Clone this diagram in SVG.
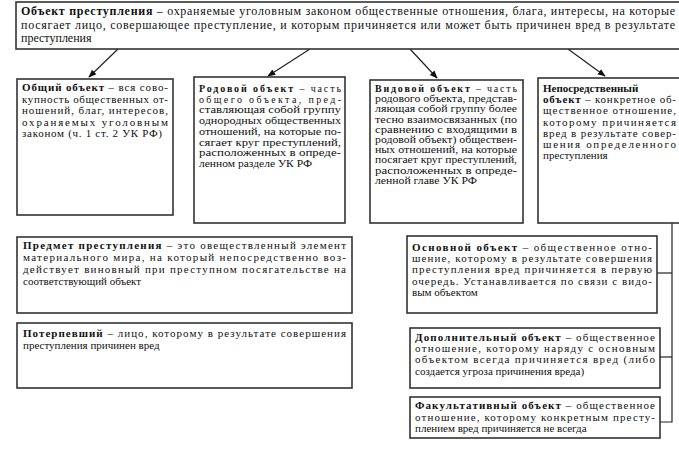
<svg xmlns="http://www.w3.org/2000/svg" width="679" height="457" viewBox="0 0 679 457">
<style>
.box{fill:#fff;stroke:#333;stroke-width:1.6}
.t{font-family:"Liberation Serif","Times New Roman",serif;font-size:12px;fill:#111}
.s{font-family:"Liberation Serif","Times New Roman",serif;font-size:11px;fill:#111}
.c{font-family:"Liberation Serif","Times New Roman",serif;font-size:10px;fill:#111}
.b{font-weight:bold}
.con{stroke:#222;stroke-width:1.2;fill:none}
</style>
<defs>
<marker id="ah" viewBox="0 0 10 10" refX="9" refY="5" markerWidth="8" markerHeight="8" orient="auto" markerUnits="userSpaceOnUse">
<path d="M0,1 L10,5 L0,9 z" fill="#111"/>
</marker>
</defs>
<rect width="679" height="457" fill="#fff"/>

<g id="connectors">
<line class="con" x1="118" y1="49" x2="89" y2="77" marker-end="url(#ah)"/>
<line class="con" x1="310" y1="49" x2="268" y2="76" marker-end="url(#ah)"/>
<line class="con" x1="410" y1="49" x2="437" y2="78" marker-end="url(#ah)"/>
<line class="con" x1="568" y1="49" x2="605" y2="76" marker-end="url(#ah)"/>
<polyline class="con" points="672,223 672,422 660,422"/>
<line class="con" x1="657" y1="273" x2="672" y2="273"/>
<line class="con" x1="660" y1="357" x2="672" y2="357"/>
</g>

<g id="object">
<rect class="box" x="16" y="2" width="680" height="47"/>
<text class="t" x="21" y="15" textLength="654" lengthAdjust="spacing"><tspan class="b">Объект преступления</tspan> – охраняемые уголовным законом общественные отношения, блага, интересы, на которые</text>
<text class="t" x="21" y="29" textLength="654" lengthAdjust="spacing">посягает лицо, совершающее преступление, и которым причиняется или может быть причинен вред в результате</text>
<text class="t" x="21" y="42">преступления</text>
</g>

<g id="general">
<rect class="box" x="17" y="79" width="156" height="136"/>
<text class="s" x="22" y="91" textLength="146" lengthAdjust="spacing"><tspan class="b">Общий объект</tspan> – вся сово-</text>
<text class="s" x="22" y="102.5" textLength="146" lengthAdjust="spacing">купность общественных от-</text>
<text class="s" x="22" y="114" textLength="146" lengthAdjust="spacing">ношений, благ, интересов,</text>
<text class="s" x="22" y="125.5" textLength="146" lengthAdjust="spacing">охраняемых уголовным</text>
<text class="s" x="22" y="137" textLength="140" lengthAdjust="spacing">законом (ч. 1 ст. 2 УК РФ)</text>
</g>

<g id="generic">
<rect class="box" x="194" y="77" width="151" height="146"/>
<text class="c" x="199" y="92" textLength="142" lengthAdjust="spacing"><tspan class="b">Родовой объект</tspan> – часть</text>
<text class="c" x="199" y="102.7" textLength="142" lengthAdjust="spacing">общего объекта, пред-</text>
<text class="c" x="199" y="113.4" textLength="142" lengthAdjust="spacingAndGlyphs">ставляющая собой группу</text>
<text class="c" x="199" y="124.1" textLength="142" lengthAdjust="spacingAndGlyphs">однородных общественных</text>
<text class="c" x="199" y="134.8" textLength="142" lengthAdjust="spacingAndGlyphs">отношений, на которые по-</text>
<text class="c" x="199" y="145.5" textLength="142" lengthAdjust="spacingAndGlyphs">сягает круг преступлений,</text>
<text class="c" x="199" y="156.2" textLength="142" lengthAdjust="spacingAndGlyphs">расположенных в опреде-</text>
<text class="c" x="199" y="166.9" textLength="113" lengthAdjust="spacingAndGlyphs">ленном разделе УК РФ</text>
</g>

<g id="specific">
<rect class="box" x="370" y="80" width="153" height="143"/>
<text class="c" x="375" y="92" textLength="142" lengthAdjust="spacing"><tspan class="b">Видовой объект</tspan> – часть</text>
<text class="c" x="375" y="102.2" textLength="142" lengthAdjust="spacingAndGlyphs">родового объекта, представ-</text>
<text class="c" x="375" y="112.4" textLength="142" lengthAdjust="spacingAndGlyphs">ляющая собой группу более</text>
<text class="c" x="375" y="122.6" textLength="142" lengthAdjust="spacingAndGlyphs">тесно взаимосвязанных (по</text>
<text class="c" x="375" y="132.8" textLength="142" lengthAdjust="spacingAndGlyphs">сравнению с входящими в</text>
<text class="c" x="375" y="143" textLength="142" lengthAdjust="spacingAndGlyphs">родовой объект) обществен-</text>
<text class="c" x="375" y="153.2" textLength="142" lengthAdjust="spacingAndGlyphs">ных отношений, на которые</text>
<text class="c" x="375" y="163.4" textLength="142" lengthAdjust="spacingAndGlyphs">посягает круг преступлений,</text>
<text class="c" x="375" y="173.6" textLength="142" lengthAdjust="spacingAndGlyphs">расположенных в опреде-</text>
<text class="c" x="375" y="183.8" textLength="102" lengthAdjust="spacingAndGlyphs">ленной главе УК РФ</text>
</g>

<g id="immediate">
<rect class="box" x="538" y="78" width="150" height="145"/>
<text class="s b" x="543" y="92">Непосредственный</text>
<text class="s" x="543" y="103.2" textLength="133" lengthAdjust="spacing"><tspan class="b">объект</tspan> – конкретное об-</text>
<text class="s" x="543" y="114.4" textLength="133" lengthAdjust="spacing">щественное отношение,</text>
<text class="s" x="543" y="125.6" textLength="133" lengthAdjust="spacing">которому причиняется</text>
<text class="s" x="543" y="136.8" textLength="133" lengthAdjust="spacing">вред в результате совер-</text>
<text class="s" x="543" y="148" textLength="133" lengthAdjust="spacing">шения определенного</text>
<text class="s" x="543" y="159.2">преступления</text>
</g>

<g id="subject">
<rect class="box" x="17" y="237" width="335" height="76"/>
<text class="s" x="23" y="249" textLength="323" lengthAdjust="spacing"><tspan class="b">Предмет преступления</tspan> – это овеществленный элемент</text>
<text class="s" x="23" y="261" textLength="323" lengthAdjust="spacing">материального мира, на который непосредственно воз-</text>
<text class="s" x="23" y="273" textLength="323" lengthAdjust="spacing">действует виновный при преступном посягательстве на</text>
<text class="s" x="23" y="285">соответствующий объект</text>
</g>

<g id="victim">
<rect class="box" x="17" y="323" width="335" height="65"/>
<text class="s" x="23" y="337" textLength="323" lengthAdjust="spacing"><tspan class="b">Потерпевший</tspan> – лицо, которому в результате совершения</text>
<text class="s" x="23" y="349">преступления причинен вред</text>
</g>

<g id="main">
<rect class="box" x="407" y="236" width="250" height="77"/>
<text class="s" x="412" y="251" textLength="240" lengthAdjust="spacing"><tspan class="b">Основной объект</tspan> – общественное отно-</text>
<text class="s" x="412" y="262.2" textLength="240" lengthAdjust="spacing">шение, которому в результате совершения</text>
<text class="s" x="412" y="273.4" textLength="240" lengthAdjust="spacing">преступления вред причиняется в первую</text>
<text class="s" x="412" y="284.6" textLength="240" lengthAdjust="spacing">очередь. Устанавливается по связи с видо-</text>
<text class="s" x="412" y="295.8">вым объектом</text>
</g>

<g id="additional">
<rect class="box" x="410" y="328" width="250" height="60"/>
<text class="s" x="415" y="341" textLength="240" lengthAdjust="spacing"><tspan class="b">Дополнительный объект</tspan> – общественное</text>
<text class="s" x="415" y="352.2" textLength="240" lengthAdjust="spacing">отношение, которому наряду с основным</text>
<text class="s" x="415" y="363.4" textLength="240" lengthAdjust="spacing">объектом всегда причиняется вред (либо</text>
<text class="s" x="415" y="374.6">создается угроза причинения вреда)</text>
</g>

<g id="optional">
<rect class="box" x="410" y="397" width="250" height="41"/>
<text class="s" x="415" y="409" textLength="240" lengthAdjust="spacing"><tspan class="b">Факультативный объект</tspan> – общественное</text>
<text class="s" x="415" y="420.5" textLength="240" lengthAdjust="spacing">отношение, которому конкретным престу-</text>
<text class="s" x="415" y="432">плением вред причиняется не всегда</text>
</g>
</svg>
